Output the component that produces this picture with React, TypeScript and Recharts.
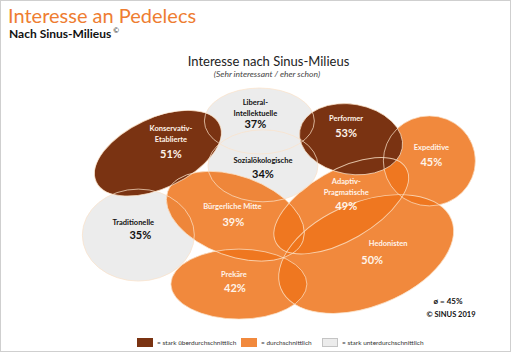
import React from 'react';
import { ScatterChart, Scatter, XAxis, YAxis, ReferenceLine } from 'recharts';

// Sinus-Milieus: x = Grundorientierung (0..5), y = soziale Lage (0 = oben .. 3.5 = unten)
const milieus = [
  'Traditionelle',
  'Liberal-Intellektuelle',
  'Sozialökologische',
  'Bürgerliche Mitte',
  'Prekäre',
  'Hedonisten',
  'Adaptiv-Pragmatische',
  'Expeditive',
  'Konservativ-Etablierte',
  'Performer',
];
const orientation = [0.97, 2.33, 2.37, 2.06, 2.1, 3.53, 3.25, 4.24, 1.19, 3.36];
const status = [2.13, 0.5, 1.14, 1.86, 2.83, 2.4, 1.71, 1.07, 0.96, 0.76];
const interest = [35, 37, 34, 39, 42, 50, 49, 45, 51, 53];
const level = ['low', 'low', 'low', 'mid', 'mid', 'mid', 'mid', 'mid', 'high', 'high'];
const average = 45;

const legendItems = [
  { key: 'high', label: '= stark überdurchschnittlich' },
  { key: 'mid', label: '= durchschnittlich' },
  { key: 'low', label: '= stark unterdurchschnittlich' },
];

const data = milieus.map((name, i) => ({
  name,
  x: orientation[i],
  y: status[i],
  value: interest[i],
  level: level[i],
}));

const fills: Record<string, string> = { high: '#7a3312', mid: '#ee741b', low: '#ececec' };
const legendFills: Record<string, string> = { high: '#7a3312', mid: '#f1893d', low: '#ececec' };

// blob outline + label placement (pixels, relative to the point)
const geo: Record<string, any> = {
  'Traditionelle': { rx: 56, ry: 46, rot: 0, lx: -5, ly: -12, vx: 2, vy: 1 },
  'Liberal-Intellektuelle': { rx: 55, ry: 33, rot: 0, lx: -4, ly: -18, vx: -4, vy: 4 },
  'Sozialökologische': { rx: 55, ry: 36, rot: 0, lx: 0, ly: -5, vx: 0, vy: 9 },
  'Bürgerliche Mitte': { rx: 72, ry: 40, rot: 20, lx: -3, ly: -9, vx: -2, vy: 7 },
  'Prekäre': { rx: 68, ry: 35, rot: 0, lx: -5, ly: -9, vx: -4, vy: 5 },
  'Hedonisten': { rx: 92, ry: 52, rot: -22, lx: 22, ly: -10, vx: 6, vy: 7 },
  'Adaptiv-Pragmatische': { rx: 75, ry: 35, rot: -30, lx: 5, ly: -24, vx: 5, vy: 1 },
  'Expeditive': { rx: 46, ry: 45, rot: 0, lx: 2, ly: -13, vx: 2, vy: 2 },
  'Konservativ-Etablierte': { rx: 68, ry: 35, rot: -25, lx: 13, ly: -24, vx: 13, vy: 2 },
  'Performer': { rx: 52, ry: 35, rot: 10, lx: -5, ly: -20, vx: -5, vy: -5 },
};

const font = 'Lato, "Open Sans", sans-serif';
const margin = { top: 85, right: 15, bottom: 22, left: 51 };
const lineColor = '#9a9a9a';

const BlobFill = (props: any) => {
  const { cx, cy, payload } = props;
  const g = geo[payload.name];
  return (
    <ellipse
      cx={cx}
      cy={cy}
      rx={g.rx}
      ry={g.ry}
      transform={`rotate(${g.rot} ${cx} ${cy})`}
      fill={fills[payload.level]}
      fillOpacity={payload.level === 'mid' ? 0.85 : 1}
    />
  );
};

const BlobOutline = (props: any) => {
  const { cx, cy, payload } = props;
  const g = geo[payload.name];
  return (
    <ellipse
      cx={cx}
      cy={cy}
      rx={g.rx}
      ry={g.ry}
      transform={`rotate(${g.rot} ${cx} ${cy})`}
      fill="none"
      stroke="#fbe2c8"
      strokeOpacity={0.8}
      strokeWidth={0.9}
    />
  );
};

const BlobLabel = (props: any) => {
  const { cx, cy, payload } = props;
  const g = geo[payload.name];
  const lines = payload.name.replace(/-/g, '-\n').split('\n');
  const color = payload.level === 'low' ? '#111' : '#fff4ea';
  return (
    <g fontFamily={font} fontWeight={700} fill={color} textAnchor="middle">
      {lines.map((l: string, i: number) => (
        <text key={i} x={cx + g.lx} y={cy + g.ly + i * 11} fontSize={7.5} dominantBaseline="middle">
          {l}
        </text>
      ))}
      <text x={cx + g.vx} y={cy + g.vy} fontSize={11} dominantBaseline="middle">
        {payload.value}%
      </text>
    </g>
  );
};

export default function App() {
  return (
    <div
      style={{
        position: 'absolute',
        left: 0,
        top: 0,
        width: 511,
        height: 352,
        boxSizing: 'border-box',
        border: '1px solid #cfcfcf',
        background: '#fff',
        fontFamily: font,
        overflow: 'hidden',
      }}
    >
      {/* grid lines behind the blobs */}
      <div style={{ position: 'absolute', left: 0, top: 0 }}>
        <ScatterChart width={511} height={352} margin={margin}>
          <XAxis type="number" dataKey="x" domain={[0, 5]} hide />
          <YAxis type="number" dataKey="y" domain={[0, 3.5]} reversed hide />
          <ReferenceLine segment={[{ x: 1, y: 0.04 }, { x: 1, y: 3.36 }]} stroke={lineColor} />
          <ReferenceLine segment={[{ x: 3, y: 0.04 }, { x: 3, y: 3.36 }]} stroke={lineColor} />
          <ReferenceLine segment={[{ x: 0.1, y: 1 }, { x: 4.82, y: 1 }]} stroke={lineColor} />
          <ReferenceLine segment={[{ x: 0.1, y: 2 }, { x: 4.82, y: 2 }]} stroke={lineColor} />
          <Scatter data={[]} isAnimationActive={false} />
        </ScatterChart>
      </div>
      <div style={{ position: 'absolute', left: 0, top: 0 }}>
        <ScatterChart width={511} height={352} margin={margin}>
          <XAxis type="number" dataKey="x" domain={[0, 5]} hide />
          <YAxis type="number" dataKey="y" domain={[0, 3.5]} reversed hide />
          <Scatter data={data} shape={(p: any) => <BlobFill {...p} />} isAnimationActive={false} />
          <Scatter data={data} shape={(p: any) => <BlobOutline {...p} />} isAnimationActive={false} />
          <Scatter data={data} shape={(p: any) => <BlobLabel {...p} />} isAnimationActive={false} />
        </ScatterChart>
      </div>

      <div style={{ position: 'absolute', left: 7, top: 2, fontSize: 20, color: '#ee7d31', whiteSpace: 'nowrap' }}>
        Interesse an Pedelecs
      </div>
      <div style={{ position: 'absolute', left: 8, top: 25, fontSize: 12, fontWeight: 700, color: '#111', whiteSpace: 'nowrap' }}>
        Nach Sinus-Milieus<sup style={{ fontSize: 7, fontWeight: 400, marginLeft: 2 }}>©</sup>
      </div>
      <div style={{ position: 'absolute', left: 0, width: 535, top: 52, textAlign: 'center', fontSize: 13, color: '#222' }}>
        Interesse nach Sinus-Milieus
      </div>
      <div style={{ position: 'absolute', left: 0, width: 532, top: 68, textAlign: 'center', fontSize: 8.5, fontStyle: 'italic', color: '#444' }}>
        (Sehr interessant / eher schon)
      </div>

      <div style={{ position: 'absolute', left: 420, width: 54, top: 295, textAlign: 'center', fontSize: 8, fontWeight: 700, color: '#111' }}>
        ø = {average}%
      </div>
      <div style={{ position: 'absolute', left: 420, width: 60, top: 309, textAlign: 'center', fontSize: 7.5, fontWeight: 700, color: '#111' }}>
        © SINUS 2019
      </div>

      {legendItems.map((it, i) => (
        <div
          key={it.key}
          style={{
            position: 'absolute',
            left: [136, 240, 321][i],
            top: 337,
            display: 'flex',
            alignItems: 'center',
            fontSize: 6.5,
            color: '#333',
            whiteSpace: 'nowrap',
          }}
        >
          <span
            style={{
              display: 'inline-block',
              width: 16,
              height: 9,
              background: legendFills[it.key],
              border: it.key === 'low' ? '1px solid #c4c4c4' : 'none',
              boxSizing: 'border-box',
              marginRight: 4,
            }}
          />
          {it.label}
        </div>
      ))}
    </div>
  );
}
